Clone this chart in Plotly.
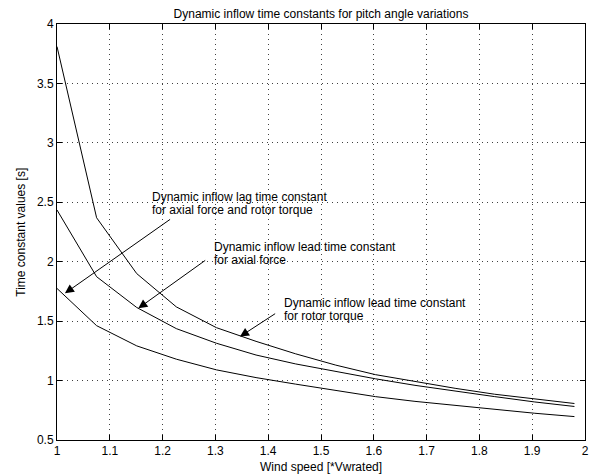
import plotly.graph_objects as go

# ---- data ----
wind_speed = [1.0, 1.075, 1.151, 1.226, 1.302, 1.377, 1.452, 1.528, 1.603, 1.678, 1.754, 1.829, 1.905, 1.98]
lead_rotor_torque = [3.81, 2.37, 1.90, 1.62, 1.445, 1.33, 1.225, 1.13, 1.05, 0.99, 0.935, 0.885, 0.845, 0.807]
lead_axial_force = [2.435, 1.874, 1.615, 1.437, 1.314, 1.215, 1.14, 1.075, 1.015, 0.96, 0.91, 0.865, 0.82, 0.782]
lag_axial_torque = [1.775, 1.462, 1.292, 1.18, 1.09, 1.025, 0.97, 0.915, 0.865, 0.825, 0.79, 0.755, 0.725, 0.697]

x_ticks = [1, 1.1, 1.2, 1.3, 1.4, 1.5, 1.6, 1.7, 1.8, 1.9, 2]
x_tick_labels = ["1", "1.1", "1.2", "1.3", "1.4", "1.5", "1.6", "1.7", "1.8", "1.9", "2"]
y_ticks = [0.5, 1, 1.5, 2, 2.5, 3, 3.5, 4]
y_tick_labels = ["0.5", "1", "1.5", "2", "2.5", "3", "3.5", "4"]

title_text = "Dynamic inflow time constants for pitch angle variations"
x_title = "Wind speed [*Vwrated]"
y_title = "Time constant values [s]"

# annotation texts (one entry per line) with (x, y) of each line and arrow (tip, tail)
notes = [
    {"lines": ["Dynamic inflow lag time constant", "for axial force and rotor torque"],
     "x": 1.178, "ys": [2.548, 2.434], "tip": (1.015, 1.734), "tail": (1.217, 2.365)},
    {"lines": ["Dynamic inflow lead time constant", "for axial force"],
     "x": 1.296, "ys": [2.126, 2.014], "tip": (1.154, 1.608), "tail": (1.2835, 2.020)},
    {"lines": ["Dynamic inflow lead time constant", "for rotor torque"],
     "x": 1.4286, "ys": [1.655, 1.544], "tip": (1.3466, 1.370), "tail": (1.416, 1.571)},
]

FONT = "Liberation Sans, Arial, Helvetica, sans-serif"
TXT = dict(family=FONT, size=12, color="black")

fig = go.Figure()
for series in [lead_rotor_torque, lead_axial_force, lag_axial_torque]:
    fig.add_trace(go.Scatter(x=wind_speed, y=series, mode="lines",
                             line=dict(color="black", width=1), showlegend=False,
                             hoverinfo="skip"))

annotations = []
for n in notes:
    for line, yv in zip(n["lines"], n["ys"]):
        annotations.append(dict(x=n["x"], y=yv, xref="x", yref="y", text=line,
                                showarrow=False, xanchor="left", yanchor="middle",
                                font=TXT, borderpad=0))
    annotations.append(dict(x=n["tip"][0], y=n["tip"][1], ax=n["tail"][0], ay=n["tail"][1],
                            xref="x", yref="y", axref="x", ayref="y", text="",
                            showarrow=True, arrowhead=2, arrowsize=1.8, arrowwidth=1,
                            arrowcolor="black", standoff=0, startstandoff=0))

# axis titles as paper-anchored texts
annotations.append(dict(x=0.5, y=-26.7 / 416, xref="paper", yref="paper", text=x_title,
                        showarrow=False, xanchor="center", yanchor="middle", font=TXT))
annotations.append(dict(x=-36.3 / 528, y=0.5, xref="paper", yref="paper", text=y_title,
                        showarrow=False, xanchor="center", yanchor="middle", textangle=-90,
                        font=TXT))

axis_common = dict(showline=True, linecolor="black", linewidth=1, mirror="allticks",
                   ticks="inside", ticklen=5, tickwidth=1, tickcolor="black",
                   showgrid=True, gridcolor="rgba(0,0,0,0.75)", gridwidth=1,
                   griddash="1px,4px", zeroline=False, automargin=False,
                   tickfont=TXT)

fig.update_layout(
    width=594, height=475,
    margin=dict(l=57, r=9, t=24, b=35),
    paper_bgcolor="white", plot_bgcolor="white",
    title=dict(text=title_text, x=0.5, xref="paper", y=1 - 14 / 475, yref="container",
               xanchor="center", yanchor="middle", font=TXT),
    xaxis=dict(range=[1, 2], tickvals=x_ticks, ticktext=x_tick_labels, **axis_common),
    yaxis=dict(range=[0.5, 4], tickvals=y_ticks, ticktext=y_tick_labels, **axis_common),
    annotations=annotations,
)

fig.write_html("out.html")
